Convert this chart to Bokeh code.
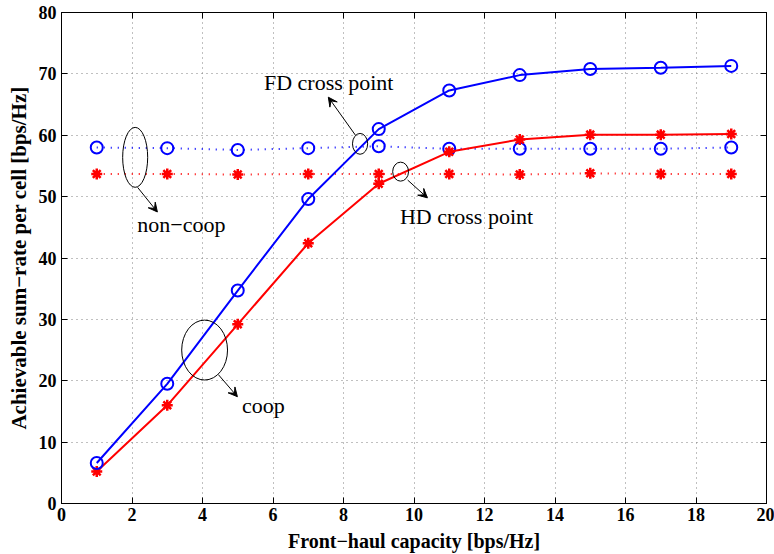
from bokeh.plotting import figure
from bokeh.models import LinearAxis, Arrow, VeeHead, Range1d, ColumnDataSource
from bokeh.core.properties import value
from bokeh.embed import file_html
from bokeh.resources import INLINE

x = [1, 3, 5, 7, 9, 11, 13, 15, 17, 19]
fd_coop = [6.6, 19.5, 34.7, 49.6, 61.0, 67.3, 69.8, 70.8, 71.0, 71.3]
hd_coop = [5.2, 16.0, 29.2, 42.4, 52.1, 57.3, 59.3, 60.1, 60.1, 60.2]
fd_noncoop = [58.0, 57.9, 57.6, 57.9, 58.2, 57.8, 57.8, 57.8, 57.8, 58.0]
hd_noncoop = [53.7, 53.7, 53.6, 53.7, 53.7, 53.7, 53.6, 53.8, 53.7, 53.7]

x_ticks = list(range(0, 21, 2))
y_ticks = list(range(0, 81, 10))

labels = ["non\u2212coop", "FD cross point", "HD cross point", "coop"]
label_x = [3.40, 7.58, 11.49, 5.73]
label_y = [45.4, 68.6, 46.8, 15.9]

ell_x = [2.09, 8.47, 9.62, 4.06]
ell_y = [56.4, 58.6, 54.07, 25.0]
ell_w = [0.71, 0.43, 0.45, 1.30]
ell_h = [9.76, 3.4, 3.1, 9.76]

arr_x0 = [2.16, 8.34, 9.82, 4.45]
arr_y0 = [51.5, 60.0, 52.7, 21.0]
arr_x1 = [2.72, 7.57, 10.38, 4.99]
arr_y1 = [47.5, 66.2, 49.8, 17.4]

SERIF = "serif"

p = figure(width=774, height=554, output_backend="svg", toolbar_location=None,
           x_range=Range1d(0, 20), y_range=Range1d(0, 80),
           min_border_left=61, min_border_right=8, min_border_top=12, min_border_bottom=50)
p.outline_line_color = "black"
p.outline_line_width = 1
p.background_fill_color = "white"
p.border_fill_color = "white"

for ax in (p.xaxis[0], p.yaxis[0]):
    ax.major_label_text_font = SERIF
    ax.major_label_text_font_style = "bold"
    ax.major_label_text_font_size = "18px"
    ax.axis_label_text_font = SERIF
    ax.axis_label_text_font_style = "bold"
    ax.major_tick_in = 6
    ax.major_tick_out = 0
    ax.minor_tick_line_color = None
    ax.axis_line_color = "black"
    ax.major_label_text_color = "black"
    ax.axis_label_text_color = "black"

p.xaxis.axis_label_text_font_size = "20px"
p.yaxis.axis_label_text_font_size = "21px"
p.xaxis.ticker = x_ticks
p.yaxis.ticker = y_ticks
p.xaxis.axis_label = "Front\u2212haul capacity [bps/Hz]"
p.yaxis.axis_label = "Achievable sum\u2212rate per cell [bps/Hz]"
p.xaxis.axis_label_standoff = 6
p.yaxis.axis_label_standoff = 5
p.xaxis.major_label_standoff = 4
p.yaxis.major_label_standoff = 5

top = LinearAxis(ticker=x_ticks, major_label_overrides={t: "" for t in x_ticks},
                 major_tick_in=6, major_tick_out=0, minor_tick_line_color=None,
                 major_label_standoff=0)
right = LinearAxis(ticker=y_ticks, major_label_overrides={t: "" for t in y_ticks},
                   major_tick_in=6, major_tick_out=0, minor_tick_line_color=None,
                   major_label_standoff=0)
p.add_layout(top, "above")
p.add_layout(right, "right")

p.xgrid.ticker = x_ticks
p.ygrid.ticker = y_ticks
p.grid.grid_line_color = "#808080"
p.grid.grid_line_dash = "1 4"
p.grid.grid_line_width = 1

# non-coop (dotted)
p.line(x, fd_noncoop, line_color="blue", line_width=2, line_dash="1 6")
p.scatter(x, fd_noncoop, marker="circle", size=12, fill_color=None, line_color="blue", line_width=2)
p.line(x, hd_noncoop, line_color="red", line_width=2, line_dash="1 6")
p.scatter(x, hd_noncoop, marker="asterisk", size=11, line_color="red", line_width=2.5)

# coop (solid)
p.line(x, hd_coop, line_color="red", line_width=2)
p.scatter(x, hd_coop, marker="asterisk", size=11, line_color="red", line_width=2.5)
p.line(x, fd_coop, line_color="blue", line_width=2)
p.scatter(x, fd_coop, marker="circle", size=12, fill_color=None, line_color="blue", line_width=2)

# annotations
p.ellipse(x=ell_x, y=ell_y, width=ell_w, height=ell_h, fill_color=None,
          line_color="black", line_width=1)
for i in range(len(arr_x0)):
    p.add_layout(Arrow(end=VeeHead(size=9, fill_color="black", line_color="black", line_width=1),
                       x_start=arr_x0[i], y_start=arr_y0[i], x_end=arr_x1[i], y_end=arr_y1[i],
                       line_color="black", line_width=1))

src = ColumnDataSource(dict(x=label_x, y=label_y, t=labels))
p.text(x="x", y="y", text="t", source=src, text_font=value(SERIF), text_font_size="22px",
       text_align="center", text_baseline="middle", text_color="black")

open("out.html", "w").write(file_html(p, INLINE))
